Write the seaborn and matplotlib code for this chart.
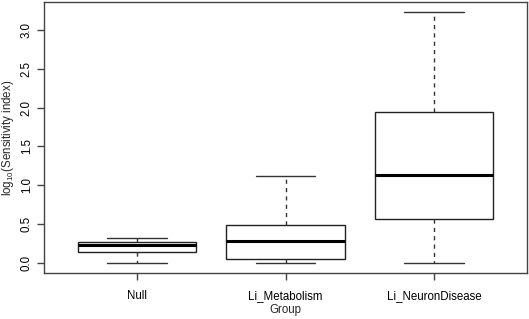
import numpy as np
import pandas as pd
import matplotlib
matplotlib.use("Agg")
import matplotlib.pyplot as plt
import seaborn as sns

# five-number summaries (min, q1, median, q3, max)
groups = ["Null", "Li_Metabolism", "Li_NeuronDisease"]
null_vals = [0.00, 0.145, 0.23, 0.27, 0.32]
metab_vals = [0.00, 0.047, 0.28, 0.487, 1.12]
neuron_vals = [0.00, 0.56, 1.13, 1.95, 3.23]

df = pd.DataFrame({
    "Group": np.repeat(groups, 5),
    "value": null_vals + metab_vals + neuron_vals,
})

sns.set_style("white")
plt.rcParams["font.family"] = ["Liberation Sans", "DejaVu Sans"]
plt.rcParams["mathtext.fontset"] = "custom"
plt.rcParams["mathtext.rm"] = "Liberation Sans"

fs = 8.3
fig = plt.figure(figsize=(5.29, 3.19), dpi=100)
ax = fig.add_axes([44 / 529, 46 / 319, 483 / 529, 271 / 319])

sns.boxplot(
    data=df, x="Group", y="value", order=groups, ax=ax,
    whis=np.inf, width=0.8, color="white", linecolor="black", linewidth=1,
    capwidths=0.4,
    medianprops=dict(color="black", linewidth=2.2),
    whiskerprops=dict(color="#333333", linestyle=(0, (3, 3)), linewidth=1),
    capprops=dict(color="#333333", linewidth=1),
    boxprops=dict(facecolor="white", edgecolor="#222222", linewidth=1),
)

ax.set_xlim(-0.626, 2.626)
ax.set_ylim(-0.129, 3.36)
ax.set_yticks([0.0, 0.5, 1.0, 1.5, 2.0, 2.5, 3.0])
ax.set_yticklabels(["0.0", "0.5", "1.0", "1.5", "2.0", "2.5", "3.0"],
                   rotation=90, va="center")
ax.tick_params(axis="both", direction="out", length=5, width=1,
               color="#444444", labelsize=fs, labelcolor="black", pad=3,
               left=True, bottom=True)
ax.tick_params(axis="x", pad=7.5)
for s in ax.spines.values():
    s.set_visible(True)
    s.set_color("#444444")
    s.set_linewidth(1)

ax.set_xlabel("Group", fontsize=fs, labelpad=1.5)
ax.set_ylabel("log$_{10}$(Sensitivity index)", fontsize=fs, labelpad=3.5)

fig.savefig("out.png", dpi=100)
